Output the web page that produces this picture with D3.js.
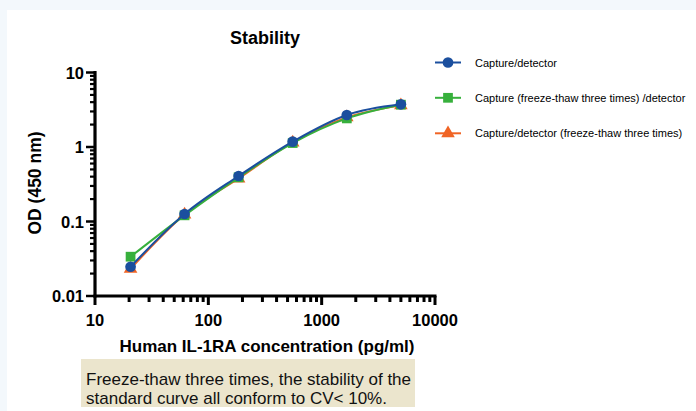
<!DOCTYPE html>
<html><head><meta charset="utf-8">
<script src="https://cdn.jsdelivr.net/npm/d3@7"></script>
<style>
html,body{margin:0;padding:0;background:#f3f8fc;}
svg{display:block;}
text{font-family:"Liberation Sans",Arial,sans-serif;}
</style></head>
<body>
<svg id="c" width="696" height="411"></svg>
<script>
const concentrations = [20.6, 61.7, 185, 555, 1667, 5000];
const seriesNames = ["Capture/detector", "Capture (freeze-thaw three times) /detector", "Capture/detector (freeze-thaw three times)"];
const seriesColors = ["#1b4f9e", "#37b03c", "#f06424"];
const seriesShapes = ["circle", "square", "triangle"];
const captureDetector = [0.0247, 0.126, 0.408, 1.18, 2.69, 3.74];
const captureFT = [0.0337, 0.121, 0.392, 1.13, 2.42, 3.70];
const detectorFT = [0.0232, 0.124, 0.378, 1.15, 2.50, 3.62];
const xTickLabels = ["10", "100", "1000", "10000"];
const yTickLabels = ["0.01", "0.1", "1", "10"];
const title = "Stability";
const xLabel = "Human IL-1RA concentration (pg/ml)";
const yLabel = "OD (450 nm)";
const noteLines = ["Freeze-thaw three times,  the stability of the", "standard curve all conform to CV< 10%."];

const seriesValues = [captureDetector, captureFT, detectorFT];

const svg = d3.select("#c");
svg.append("rect").attr("x",7).attr("y",10).attr("width",689).attr("height",401).attr("fill","#fff");

const x = d3.scaleLog().domain([10,10000]).range([95,435]);
const y = d3.scaleLog().domain([0.01,10]).range([296,72.5]);

// title
svg.append("text").attr("x",265).attr("y",44).attr("text-anchor","middle")
  .attr("font-size",18).attr("font-weight","bold").text(title);

// ticks
const minorX = [], minorY = [];
for (let d=10; d<10000; d*=10) for (let k=2;k<=9;k++) minorX.push(d*k);
for (let d=0.01; d<10; d*=10) for (let k=2;k<=9;k++) minorY.push(+(d*k).toPrecision(3));
const majorX = xTickLabels.map(Number), majorY = yTickLabels.map(Number);

const g = svg.append("g");
g.selectAll(".xmin").data(minorX).enter().append("line")
  .attr("x1",d=>x(d)).attr("x2",d=>x(d)).attr("y1",296).attr("y2",302)
  .attr("stroke","#000").attr("stroke-width",3);
g.selectAll(".xmaj").data(majorX).enter().append("line")
  .attr("x1",d=>x(d)).attr("x2",d=>x(d)).attr("y1",296).attr("y2",305)
  .attr("stroke","#000").attr("stroke-width",3);
g.selectAll(".ymin").data(minorY).enter().append("line")
  .attr("x1",90).attr("x2",95).attr("y1",d=>y(d)).attr("y2",d=>y(d))
  .attr("stroke","#000").attr("stroke-width",2.2);
g.selectAll(".ymaj").data(majorY).enter().append("line")
  .attr("x1",86).attr("x2",95).attr("y1",d=>y(d)).attr("y2",d=>y(d))
  .attr("stroke","#000").attr("stroke-width",2.5);
g.append("line").attr("x1",95).attr("x2",95).attr("y1",71).attr("y2",297.5).attr("stroke","#000").attr("stroke-width",3.2);
g.append("line").attr("x1",93.5).attr("x2",436.5).attr("y1",296).attr("y2",296).attr("stroke","#000").attr("stroke-width",3.2);

g.selectAll(".xl").data(xTickLabels).enter().append("text")
  .attr("x",d=>x(+d)).attr("y",326).attr("text-anchor","middle")
  .attr("font-size",16.5).attr("font-weight","bold").text(d=>d);
g.selectAll(".yl").data(yTickLabels).enter().append("text")
  .attr("x",84).attr("y",d=>y(+d)+6).attr("text-anchor","end")
  .attr("font-size",16.5).attr("font-weight","bold").text(d=>d);

svg.append("text").attr("x",267).attr("y",352).attr("text-anchor","middle")
  .attr("font-size",17).attr("font-weight","bold").text(xLabel);
svg.append("text").attr("transform","translate(41,183) rotate(-90)").attr("text-anchor","middle")
  .attr("font-size",17.5).attr("font-weight","bold").text(yLabel);

const line = d3.line().x(d=>x(d[0])).y(d=>y(d[1])).curve(d3.curveMonotoneX);
const sym = {circle:d3.symbolCircle, square:d3.symbolSquare, triangle:d3.symbolTriangle};
const symSize = {circle:90, square:95, triangle:80};
[2,1,0].forEach(i=>{
  const pts = concentrations.map((c,j)=>[c, seriesValues[i][j]]);
  svg.append("path").attr("d",line(pts)).attr("fill","none")
    .attr("stroke",seriesColors[i]).attr("stroke-width",2);
  svg.selectAll(".m"+i).data(pts).enter().append("path")
    .attr("transform",d=>`translate(${x(d[0])},${y(d[1])})`)
    .attr("d",d3.symbol().type(sym[seriesShapes[i]]).size(symSize[seriesShapes[i]]))
    .attr("fill",seriesColors[i]);
});

const legY = [62.5, 97.8, 133.3];
seriesNames.forEach((n,i)=>{
  const lg = svg.append("g");
  lg.append("line").attr("x1",435).attr("x2",461).attr("y1",legY[i]).attr("y2",legY[i])
    .attr("stroke",seriesColors[i]).attr("stroke-width",2);
  lg.append("path").attr("transform",`translate(448,${legY[i]})`)
    .attr("d",d3.symbol().type(sym[seriesShapes[i]]).size(symSize[seriesShapes[i]]))
    .attr("fill",seriesColors[i]);
  lg.append("text").attr("x",475).attr("y",legY[i]+4).attr("font-size",11).text(n);
});

svg.append("rect").attr("x",81).attr("y",359).attr("width",334).attr("height",48).attr("fill","#ebe5cd");
noteLines.forEach((t,i)=>{
  svg.append("text").attr("x",86).attr("y",385+i*19).attr("font-size",17).attr("fill","#111").text(t);
});
</script>
</body></html>
